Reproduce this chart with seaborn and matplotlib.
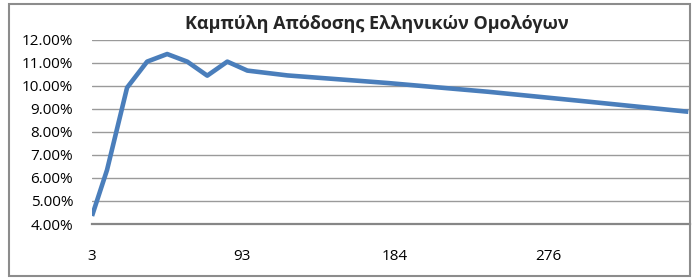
import matplotlib
matplotlib.use("Agg")
import matplotlib.pyplot as plt
import matplotlib.patches as patches
from matplotlib.ticker import PercentFormatter
import pandas as pd
import seaborn as sns

sns.set_style("white")
plt.rcParams["font.family"] = ["Open Sans", "DejaVu Sans"]

# Καμπύλη απόδοσης: διάρκεια (μήνες) και απόδοση
maturity = [3, 12, 24, 36, 48, 60, 72, 84, 96, 120, 180, 240, 300, 360]
yields = [0.0435, 0.0635, 0.0993, 0.1106, 0.1139, 0.1106, 0.1045, 0.1106,
          0.1067, 0.1046, 0.1013, 0.0975, 0.0932, 0.0888]
xticks = [3, 93, 184, 276]
title = "Καμπύλη Απόδοσης Ελληνικών Ομολόγων"

df = pd.DataFrame({"maturity": maturity, "yield": yields})

W, H = 692, 278
fig = plt.figure(figsize=(W / 100, H / 100), dpi=100)
ax = fig.add_axes([92 / W, 1 - 224 / H, (690 - 92) / W, (224 - 40) / H])

sns.lineplot(data=df, x="maturity", y="yield", ax=ax, color="#4A7EBB",
             linewidth=3.3, solid_capstyle="butt")

ax.set_xlim(3, 361)
ax.set_ylim(0.04, 0.12)
ax.set_yticks([0.04 + 0.01 * i for i in range(9)])
ax.yaxis.set_major_formatter(PercentFormatter(1, decimals=2))
ax.set_xticks(xticks)
ax.set_xticklabels([str(t) for t in xticks])
ax.set_xlabel("")
ax.set_ylabel("")
ax.grid(axis="y", color="#9a9a9a", linewidth=1)
ax.grid(axis="x", visible=False)
for s in ["top", "left", "right"]:
    ax.spines[s].set_visible(False)
ax.spines["bottom"].set_color("#868686")
ax.spines["bottom"].set_linewidth(1.6)
ax.tick_params(axis="y", length=0, pad=13.5, labelsize=11, labelcolor="black")
ax.tick_params(axis="x", length=0, pad=18, labelsize=11, labelcolor="black")

fig.text(377 / W, 1 - 24 / H, title, ha="center", va="center",
         fontsize=13, fontweight="bold")

border = patches.Rectangle((9 / W, 2 / H), (690 - 9) / W, (276 - 4) / H,
                           transform=fig.transFigure, fill=False,
                           edgecolor="#8c8c8c", linewidth=1.5)
fig.patches.append(border)

fig.savefig("out.png", dpi=100)
